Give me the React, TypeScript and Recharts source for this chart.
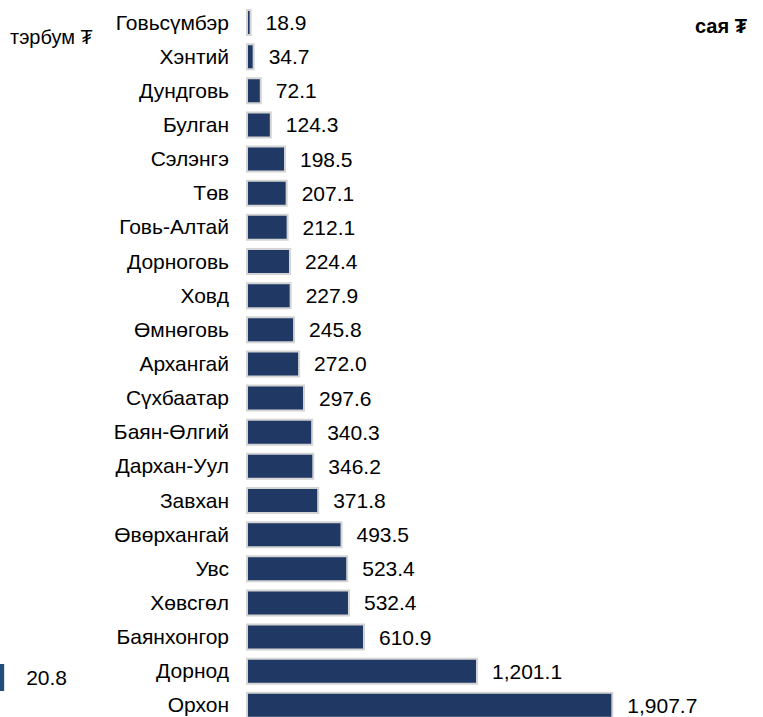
import { BarChart, Bar, XAxis, YAxis, LabelList } from "recharts";

const provinces = [
  "Говьсүмбэр",
  "Хэнтий",
  "Дундговь",
  "Булган",
  "Сэлэнгэ",
  "Төв",
  "Говь-Алтай",
  "Дорноговь",
  "Ховд",
  "Өмнөговь",
  "Архангай",
  "Сүхбаатар",
  "Баян-Өлгий",
  "Дархан-Уул",
  "Завхан",
  "Өвөрхангай",
  "Увс",
  "Хөвсгөл",
  "Баянхонгор",
  "Дорнод",
  "Орхон",
];

const amounts = [
  18.9, 34.7, 72.1, 124.3, 198.5, 207.1, 212.1, 224.4, 227.9, 245.8, 272.0,
  297.6, 340.3, 346.2, 371.8, 493.5, 523.4, 532.4, 610.9, 1201.1, 1907.7,
];

const totalLabel = ["Нийт"];
const totalValue = [20.8];

const fmt = (v: number) =>
  Number(v).toLocaleString("en-US", {
    minimumFractionDigits: 1,
    maximumFractionDigits: 1,
  });

export default function App() {
  const data = provinces.map((name, i) => ({ name, value: amounts[i] }));
  const totalData = totalLabel.map((name, i) => ({ name, value: totalValue[i] }));
  const font = "'Liberation Sans', Arial, sans-serif";

  return (
    <div
      style={{
        position: "absolute",
        top: 0,
        left: 0,
        width: 763,
        height: 717,
        overflow: "hidden",
        background: "#fff",
        fontFamily: font,
      }}
    >
      <div style={{ position: "absolute", left: 10, top: 26, fontSize: 20, color: "#000" }}>
        тэрбум ₮
      </div>
      <div
        style={{
          position: "absolute",
          left: 695,
          top: 15,
          fontSize: 20,
          fontWeight: "bold",
          color: "#000",
        }}
      >
        сая ₮
      </div>

      <div style={{ position: "absolute", left: 0, top: 0 }}>
        <BarChart
          width={763}
          height={722}
          data={data}
          layout="vertical"
          margin={{ top: 5, right: 133, bottom: 0, left: 0 }}
        >
          <XAxis type="number" hide domain={[0, 2000]} />
          <YAxis
            type="category"
            dataKey="name"
            width={247}
            axisLine={false}
            tickLine={false}
            tickMargin={12}
            interval={0}
            tick={{ fill: "#000", fontSize: 21, fontFamily: font }}
          />
          <Bar
            dataKey="value"
            fill="#203864"
            stroke="#d4d4d4"
            strokeWidth={2}
            barSize={25}
            isAnimationActive={false}
          >
            <LabelList
              dataKey="value"
              position="right"
              offset={15}
              formatter={fmt}
              style={{ fill: "#000", fontSize: 21, fontFamily: font }}
            />
          </Bar>
        </BarChart>
      </div>

      <div style={{ position: "absolute", left: 0, top: 657 }}>
        <BarChart
          width={100}
          height={40}
          data={totalData}
          layout="vertical"
          margin={{ top: 0, right: 20, bottom: 0, left: 0 }}
        >
          <XAxis type="number" hide domain={[0, 400]} />
          <YAxis type="category" dataKey="name" hide />
          <Bar dataKey="value" fill="#1f4e79" barSize={27} isAnimationActive={false}>
            <LabelList
              dataKey="value"
              position="right"
              offset={22}
              formatter={fmt}
              style={{ fill: "#000", fontSize: 21, fontFamily: font }}
            />
          </Bar>
        </BarChart>
      </div>
    </div>
  );
}
